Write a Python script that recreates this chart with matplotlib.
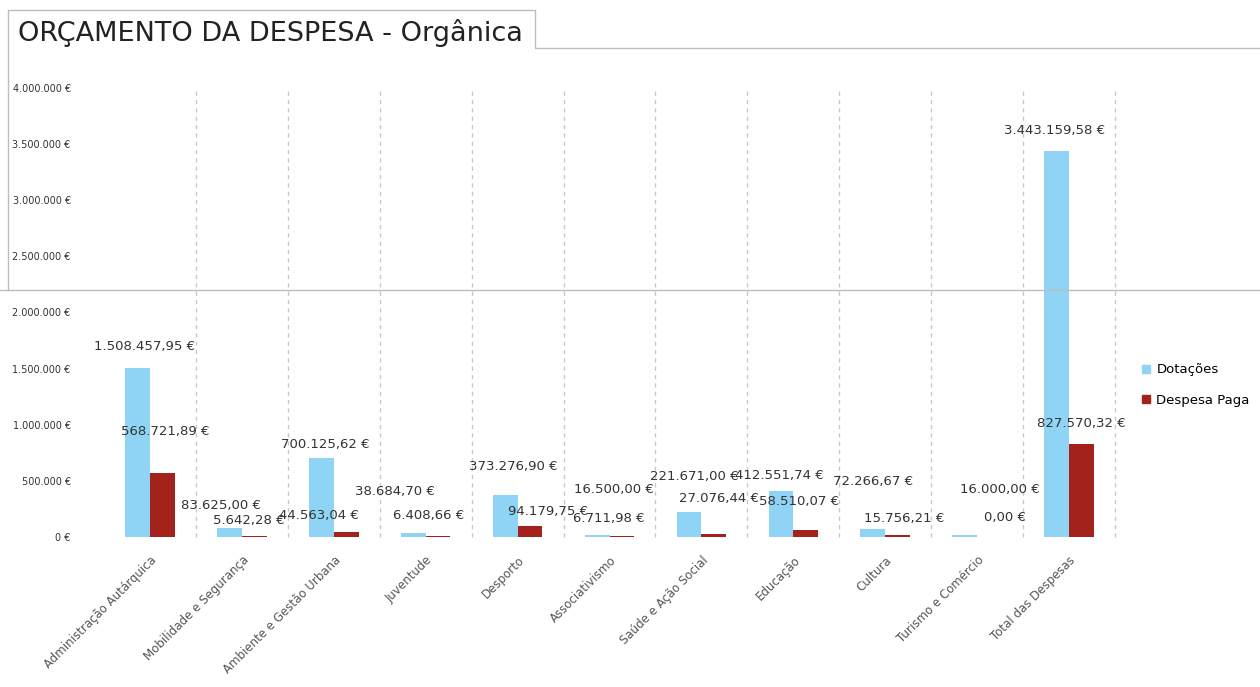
import matplotlib
matplotlib.use("Agg")
import matplotlib.pyplot as plt
import numpy as np
from matplotlib.lines import Line2D
from matplotlib.patches import Patch

categorias = ["Administração Autárquica", "Mobilidade e Segurança",
              "Ambiente e Gestão Urbana", "Juventude", "Desporto",
              "Associativismo", "Saúde e Ação Social", "Educação",
              "Cultura", "Turismo e Comércio", "Total das Despesas"]
dotacoes = [1508457.95, 83625.00, 700125.62, 38684.70, 373276.90,
            16500.00, 221671.00, 412551.74, 72266.67, 16000.00, 3443159.58]
despesa_paga = [568721.89, 5642.28, 44563.04, 6408.66, 94179.75,
                6711.98, 27076.44, 58510.07, 15756.21, 0.00, 827570.32]

# label offsets (pixels) from top of each bar, as they sit in the original
off_dot = [(7, 21), (-8, 22), (4, 14), (-18, 41), (8, 29), (17, 46),
           (5, 36), (-2, 15), (0, 47), (35, 46), (-2, 20)]
off_pag = [(3, 42), (-5, 16), (-27, 16), (-9, 21), (18, 15), (-13, 18),
           (5, 35), (-7, 29), (7, 17), (15, 19), (0, 21)]

azul = "#8fd4f5"
vermelho = "#a3221b"


def eur(v):
    s = f"{v:,.2f}".replace(",", "X").replace(".", ",").replace("X", ".")
    return s + " €"


fig = plt.figure(figsize=(12.6, 6.87), dpi=100)
W, H = 1260, 687
ax = fig.add_axes([104 / W, (H - 537) / H, (1115 - 104) / W, (537 - 88) / H])

x = np.arange(len(categorias))
w = 0.27
b1 = ax.bar(x - w / 2, dotacoes, w, color=azul, label="Dotações")
b2 = ax.bar(x + w / 2, despesa_paga, w, color=vermelho, label="Despesa Paga")

for rect, v, (dx, dy) in zip(b1, dotacoes, off_dot):
    ax.annotate(eur(v), (rect.get_x() + rect.get_width() / 2, v),
                xytext=(dx, dy), textcoords="offset pixels",
                ha="center", va="center", fontsize=9.5, color="#333333")
for rect, v, (dx, dy) in zip(b2, despesa_paga, off_pag):
    ax.annotate(eur(v), (rect.get_x() + rect.get_width() / 2, v),
                xytext=(dx, dy), textcoords="offset pixels",
                ha="center", va="center", fontsize=9.5, color="#333333")

ax.set_xlim(-0.5, len(categorias) - 0.5)
ax.set_ylim(0, 4000000)
yt = np.arange(0, 4000001, 500000)
ax.set_yticks(yt)
ax.set_yticklabels(["0 €" if t == 0 else f"{t:,.0f}".replace(",", ".") + " €" for t in yt],
                   fontsize=7, color="#333333")
ax.tick_params(axis="y", length=0, pad=24)
ax.set_xticks(x)
ax.set_xticklabels(categorias, rotation=45, ha="right", rotation_mode="anchor",
                   fontsize=8.5, color="#555555")
ax.tick_params(axis="x", length=0, pad=12)

for b in np.arange(0.5, len(categorias), 1.0):
    ax.axvline(b, color="#c8c8c8", lw=1, ls=(0, (3, 3)), zorder=0, clip_on=False)

for s in ax.spines.values():
    s.set_visible(False)

handles = [Patch(color=azul, label="Dotações"), Patch(color=vermelho, label="Despesa Paga")]
fig.legend(handles=handles, loc="center left", bbox_to_anchor=(1130 / W, (H - 385) / H),
           frameon=False, fontsize=9.5, handlelength=0.6, handleheight=0.6,
           labelspacing=1.3, handletextpad=0.5)

fig.text(18 / W, (H - 33) / H, "ORÇAMENTO DA DESPESA - Orgânica", fontsize=19.5,
         color="#222222", va="center", ha="left")

# frame lines of the page
def pline(xs, ys):
    fig.add_artist(Line2D([v / W for v in xs], [(H - v) / H for v in ys],
                          color="#bdbdbd", lw=1))

pline([8, 8, 535, 535, 1260], [290, 10, 10, 48, 48])
pline([0, 1260], [290, 290])

fig.savefig("out.png", dpi=100)
